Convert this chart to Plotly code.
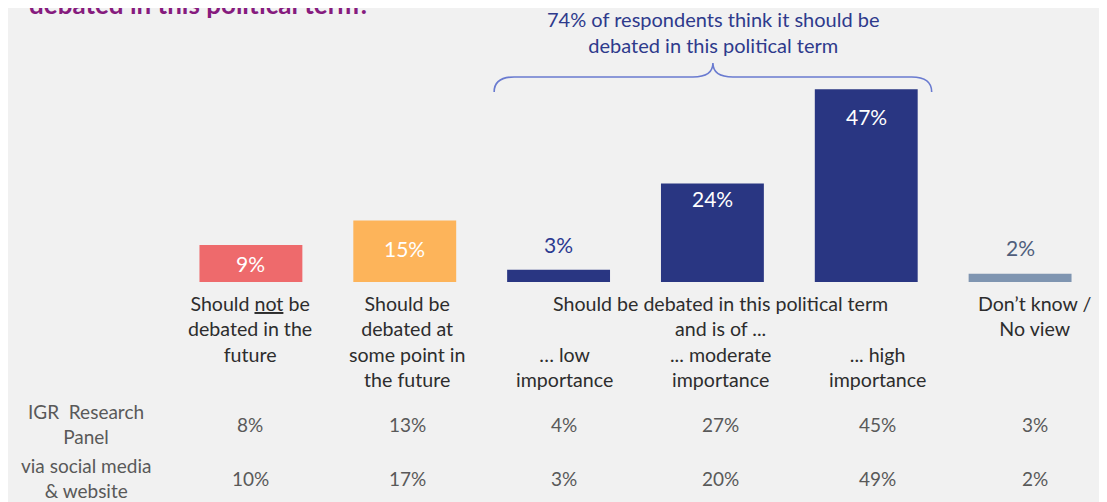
import plotly.graph_objects as go

# ---------------- data ----------------
categories = ["not_future", "some_point", "low", "moderate", "high", "dont_know"]
values = [9, 15, 3, 24, 47, 2]
bar_labels = [
    "Should <u>not</u> be<br>debated in the<br>future",
    "Should be<br>debated at<br>some point in<br>the future",
    "\u2026 low<br>importance",
    "... moderate<br>importance",
    "... high<br>importance",
    "Don\u2019t know /<br>No view",
]
group_label = "Should be debated in this political term<br>and is of ..."
brace_label = "74% of respondents think it should be<br>debated in this political term"
title_text = "debated in this political term?"
row_labels = ["IGR\u00a0 Research<br>Panel", "via social media<br>& website"]
panel_values = [8, 13, 4, 27, 45, 3]
social_values = [10, 17, 3, 20, 49, 2]
table_rows = [panel_values, social_values]

# ---------------- styles ----------------
FONT = "Lato"
bar_colors = ["#EE6A6C", "#FDB45A", "#293682", "#293682", "#293682", "#7F95B1"]
value_colors = ["#FFFFFF", "#FFFFFF", "#2B3990", "#FFFFFF", "#FFFFFF", "#4F5E7C"]
value_offsets = [18, 28, -25, 15, 27, -26]   # px below (+) / above (-) bar top
label_start_line = [0, 0, 2, 2, 2, 0]
LABEL_COLOR = "#2D2D2D"
TABLE_COLOR = "#595959"
BG = "#F1F1F1"

# page has an 8px body margin; figure occupies the rest of the 1107x502 window
OFF = 8
W, H = 1107 - OFF, 502 - OFF
L, R, T, B = 165.5, 9.5, 69, 220
PW, PH = W - L - R, H - T - B
BASE_PAGE = OFF + T + PH   # baseline y in page pixels (282)


def px(xpage):
    return (xpage - OFF - L) / PW


def py(ypage):
    return (BASE_PAGE - ypage) / PH


def col_shift(i):
    return 3 * i - 0.5


fig = go.Figure(
    go.Bar(
        x=categories,
        y=values,
        marker=dict(color=bar_colors, line=dict(width=0)),
        hoverinfo="skip",
    )
)

annotations = []

# value labels on / above bars
for i, (cat, v) in enumerate(zip(categories, values)):
    annotations.append(dict(
        x=cat, xref="x", y=v, yref="y", yshift=-value_offsets[i],
        xanchor="center", yanchor="middle",
        text=f"{v}%", showarrow=False,
        font=dict(family=FONT, size=21, color=value_colors[i]),
    ))

# labels below bars
for i, (cat, lab) in enumerate(zip(categories, bar_labels)):
    annotations.append(dict(
        x=cat, xref="x", xshift=col_shift(i),
        y=py(290 + label_start_line[i] * 25.5), yref="paper",
        yanchor="top", xanchor="center", align="center",
        text=lab, showarrow=False,
        font=dict(family=FONT, size=19.6, color=LABEL_COLOR),
    ))

# group header
annotations.append(dict(
    x=categories[3], xref="x", xshift=col_shift(3),
    y=py(290), yref="paper", yanchor="top", xanchor="center", align="center",
    text=group_label, showarrow=False,
    font=dict(family=FONT, size=19.6, color=LABEL_COLOR),
))

# table rows
for r, (rlab, row) in enumerate(zip(row_labels, table_rows)):
    yc = py(424 + r * 54)
    annotations.append(dict(
        x=px(85), xref="paper", y=yc, yref="paper",
        xanchor="center", yanchor="middle", align="center",
        text=rlab, showarrow=False,
        font=dict(family=FONT, size=19, color=TABLE_COLOR),
    ))
    for i, (cat, v) in enumerate(zip(categories, row)):
        annotations.append(dict(
            x=cat, xref="x", xshift=col_shift(i),
            y=yc, yref="paper", xanchor="center", yanchor="middle",
            text=f"{v}%", showarrow=False,
            font=dict(family=FONT, size=19, color=TABLE_COLOR),
        ))

# brace text
annotations.append(dict(
    x=px(714), xref="paper", y=py(32), yref="paper",
    xanchor="center", yanchor="middle", align="center",
    text=brace_label, showarrow=False,
    font=dict(family=FONT, size=20, color="#2E3A8C"),
))

# title (partially cropped at top)
annotations.append(dict(
    x=px(26), xref="paper", y=py(22), yref="paper",
    xanchor="left", yanchor="bottom", align="left",
    text=f"<b>{title_text}</b>", showarrow=False,
    font=dict(family=FONT, size=26, color="#861B7E"),
))

# brace path (page pixel coords -> paper)
pts = [(494, 92), (494, 77), (514, 77), (693, 77), (713, 77), (713, 63),
       (713, 77), (733, 77), (912, 77), (932, 77), (932, 92)]
P = [(px(a), py(b)) for a, b in pts]
path = (f"M {P[0][0]},{P[0][1]} Q {P[1][0]},{P[1][1]} {P[2][0]},{P[2][1]} "
        f"L {P[3][0]},{P[3][1]} Q {P[4][0]},{P[4][1]} {P[5][0]},{P[5][1]} "
        f"Q {P[6][0]},{P[6][1]} {P[7][0]},{P[7][1]} "
        f"L {P[8][0]},{P[8][1]} Q {P[9][0]},{P[9][1]} {P[10][0]},{P[10][1]}")

shapes = [
    dict(type="path", xref="paper", yref="paper", path=path,
         line=dict(color="#6A7BD0", width=1.6)),
]

fig.update_layout(
    width=W, height=H,
    margin=dict(l=L, r=R, t=T, b=B, pad=0),
    paper_bgcolor=BG, plot_bgcolor=BG,
    bargap=1 - 103 / 154,
    showlegend=False,
    xaxis=dict(visible=False, range=[-0.5, 5.5], fixedrange=True),
    yaxis=dict(visible=False, range=[0, PH / 4.1], fixedrange=True),
    annotations=annotations,
    shapes=shapes,
    font=dict(family=FONT),
)

fig.write_html("out.html", config={"displayModeBar": False})
